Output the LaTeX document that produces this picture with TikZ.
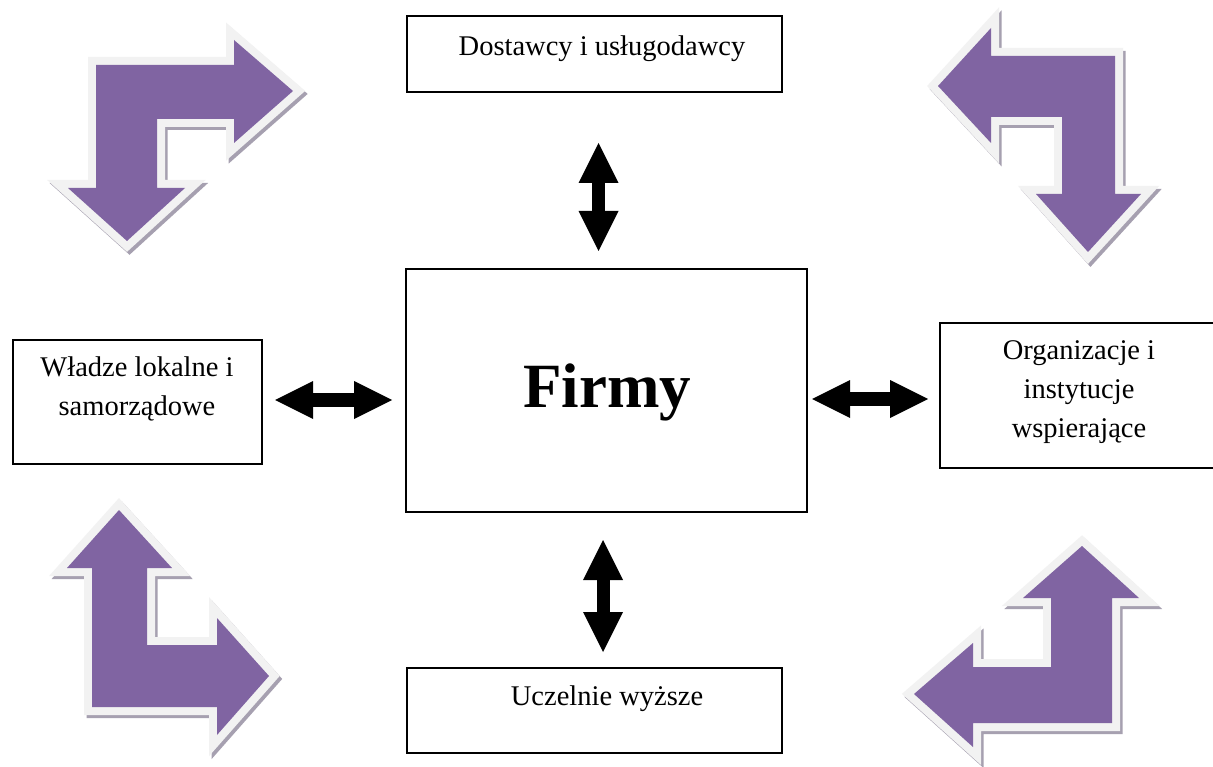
\documentclass[tikz,border=0pt]{standalone}
\usepackage{fontspec}
\setmainfont{Liberation Serif}
\usetikzlibrary{arrows.meta}
\definecolor{bentpurple}{HTML}{8064A2}
\definecolor{bentlight}{HTML}{F2F2F2}
\definecolor{bentshadow}{RGB}{166,160,176}
\newcommand\purplebent[1]{%
  \fill[bentshadow, draw=bentshadow, line width=16pt, miter limit=10, shift={(2.5,3)}] #1 -- cycle;
  \draw[bentlight, line width=16pt, miter limit=10] #1 -- cycle;
  \fill[bentpurple] #1 -- cycle;
}
\tikzset{
  box/.style={draw=black, line width=1.5pt, fill=white, inner sep=0pt, anchor=center},
  lbl/.style={font=\fontsize{28.5}{39}\selectfont, inner sep=0pt, anchor=base, align=center},
  dblarrow/.style={line width=13pt, draw=black,
    {Triangle[length=40pt,width=40pt,line width=0pt]}-{Triangle[length=40pt,width=40pt,line width=0pt]}},
  dblarrowh/.style={line width=14pt, draw=black,
    {Triangle[length=38pt,width=38pt,line width=0pt]}-{Triangle[length=38pt,width=38pt,line width=0pt]}}
}
\begin{document}
\begin{tikzpicture}[x=1pt,y=-1pt]
\useasboundingbox (0,0) rectangle (1213,767);
\fill[white] (0,0) rectangle (1213,767);

% bent arrows
\purplebent{(96,65) -- (234,65) -- (234,40) -- (293,91) -- (234,143) -- (234,119) -- (157,119) -- (157,188) -- (185,188) -- (127,241) -- (68,188) -- (96,188)}
\purplebent{(1115,56) -- (991,56) -- (991,28) -- (938,86) -- (991,143) -- (991,117) -- (1062,117) -- (1062,194) -- (1036,194) -- (1088,252) -- (1141,194) -- (1115,194)}
\purplebent{(119,510) -- (172,568) -- (147,568) -- (147,645) -- (217,645) -- (217,618) -- (269,676) -- (217,735) -- (217,707) -- (92,707) -- (92,568) -- (67,568)}
\purplebent{(1082,546) -- (1139,598) -- (1112,598) -- (1112,723) -- (973,723) -- (973,747) -- (914,694) -- (973,643) -- (973,667) -- (1051,667) -- (1051,598) -- (1023,598)}

% boxes
\node[box, minimum width=375pt, minimum height=76pt] (dost) at (594.5,54) {};
\node[box, minimum width=401pt, minimum height=243pt] (firmy) at (606.5,390.5) {};
\node[box, minimum width=249pt, minimum height=124pt] (wladze) at (137.5,402) {};
\node[box, minimum width=274pt, minimum height=145pt] (org) at (1077,395.5) {};
\node[box, minimum width=375pt, minimum height=85pt] (ucz) at (594.5,710.5) {};

% texts (anchor=base: baseline of the last line)
\node[lbl] (tdost) at (602,56) {Dostawcy i usługodawcy};
\node[lbl] (tucz) at (607,705) {Uczelnie wyższe};
\node[lbl] (twladze) at (137,415) {Władze lokalne i\\samorządowe};
\node[lbl] (torg) at (1079,437) {Organizacje i\\instytucje\\wspierające};
\node[inner sep=0pt, anchor=base, font=\fontsize{63}{70}\selectfont\bfseries] (tfirmy) at (607,407) {Firmy};

% double arrows
\coordinate (a1) at (598.5,143);
\coordinate (a2) at (598.5,251);
\coordinate (b1) at (603,540);
\coordinate (b2) at (603,652);
\coordinate (c1) at (275,400);
\coordinate (c2) at (392,400);
\coordinate (d1) at (812,399);
\coordinate (d2) at (928,399);
\draw[dblarrow] (a1) -- (a2);
\draw[dblarrow] (b1) -- (b2);
\draw[dblarrowh] (c1) -- (c2);
\draw[dblarrowh] (d1) -- (d2);
\end{tikzpicture}
\end{document}
